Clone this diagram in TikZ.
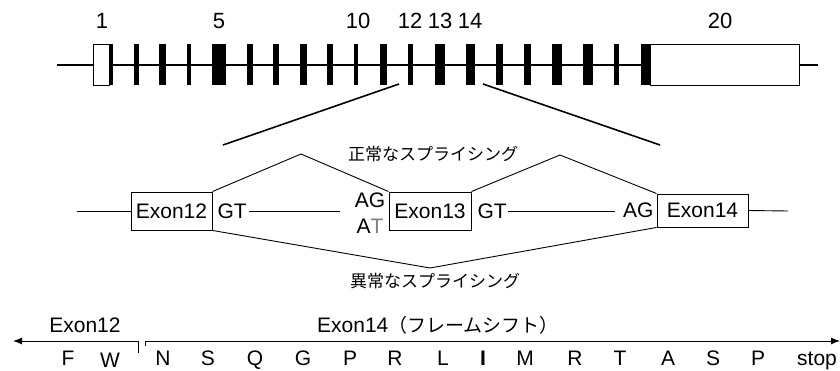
\documentclass[tikz,border=0pt]{standalone}
\usepackage{fontspec}
\setmainfont{Liberation Sans}
\newfontfamily\jpfont{Noto Sans CJK JP}
\usetikzlibrary{arrows.meta,positioning}

\begin{document}
\begin{tikzpicture}[
  x=1pt, y=-1pt,
  font=\fontsize{21}{24}\selectfont,
  utr/.style={draw=black, fill=white, line width=0.8pt},
  exonbox/.style={
    draw,
    line width=0.9pt,
    inner sep=0pt,
    minimum height=38pt
  },
  site/.style={inner sep=0pt},
  num/.style={font=\fontsize{22}{26}\selectfont, inner sep=0pt},
  jplabel/.style={font=\fontsize{17}{20}\selectfont\jpfont, inner sep=0pt},
  aa/.style={inner sep=0pt, anchor=base},
  line/.style={line width=0.9pt},
  zoomline/.style={line width=1.6pt},
  frame/.style={line width=1pt, -{Latex[length=9pt,width=7pt]}}
]
\useasboundingbox (0,0) rectangle (840,371);

% --- Gene structure (exons 1-20) ---
\draw[line width=1.2pt] (57,65) -- (818,65);
\draw[utr] (93,44) rectangle (109,85);
\fill (109,44) rectangle (113,85);
\foreach \l/\r in {134/139,159/166,187/191,212/226,247/253,273/279,300/307,
                   327/333,354/358,380/387,408/413,435/445,466/475,496/503,
                   524/531,552/562,583/593,614/619}
  \fill (\l,44) rectangle (\r,85);
\fill (641,44) rectangle (650,85);
\draw[utr] (650,44) rectangle (799,85);

\foreach \x/\n in {102/1,219/5,358/10,410/12,440/13,470/14,720/20}
  \node[num] (num\n) at (\x,21) {\n};

% --- Zoom to exons 12-14 ---
\coordinate (zoomL) at (399,84);
\coordinate (zoomR) at (483,84);
\coordinate (zoomLb) at (223,145);
\coordinate (zoomRb) at (660,145);
\draw[zoomline] (zoomL) -- (zoomLb);
\draw[zoomline] (zoomR) -- (zoomRb);

\node[exonbox, minimum width=81pt] (ex12) at (171.5,211) {Exon12};
\node[exonbox, minimum width=82pt] (ex13) at (430,211) {Exon13};
\node[exonbox, minimum width=91pt, minimum height=33pt] (ex14) at (702.5,210.5) {Exon14};

\node[site, right=5pt of ex12] (gt12) {GT};
\node[site] (ag13) at (370,200) {AG};
\node[site] (at13) at (370,226) {A\textcolor{gray}{T}};
\node[site, right=6pt of ex13] (gt13) {GT};
\node[site, left=3pt of ex14] (ag14) {AG};

\coordinate (startL) at (77,211);
\coordinate (i12) at (340,211);
\coordinate (i13) at (615,211);
\coordinate (endR) at (788,211);

\draw[line] (startL) -- (ex12.west);
\draw[line] ([xshift=2pt]gt12.east) -- (i12);
\draw[line] ([xshift=1pt]gt13.east) -- (i13);
\draw[line] (ex14.east) -- (endR);

% normal / abnormal splicing
\coordinate (up1) at (301,154);
\coordinate (up2) at (560,155);
\coordinate (down) at (430,268);
\draw[line] (ex12.north east) -- (up1) -- (ex13.north west);
\draw[line] (ex13.north east) -- (up2) -- (ex14.north west);
\draw[line] (ex12.south east) -- (down) -- (ex14.south west);

\node[jplabel] (normal) at (433,154) {正常なスプライシング};
\node[jplabel] (abnormal) at (435,281) {異常なスプライシング};

% --- Reading frame ---
\node[site] (lab12) at (85,325) {Exon12};
\node[site] (lab14) at (438,325) {Exon14{\jpfont\fontsize{19}{22}\selectfont （フレームシフト）}};

\coordinate (f12) at (138,353);
\coordinate (f12end) at (13,341);
\coordinate (f14) at (145,346);
\coordinate (f14end) at (840,341);
\draw[frame] (f12) -- (f12 |- f12end) -- (f12end);
\draw[frame] (f14) -- (f14 |- f14end) -- (f14end);

\foreach \x/\a in {68/F,163/N,208/S,255/Q,303/G,350/P,395/R,443/L,525/M,
                   575/R,620/T,668/A,713/S,758/P,817/stop}
  \node[aa] (aa\x) at (\x,365) {\a};
\node[aa] (aaW) at (110,367) {W};
\node[aa, font=\fontsize{21}{24}\selectfont\bfseries] (aaI) at (483,365) {I};

\end{tikzpicture}
\end{document}
